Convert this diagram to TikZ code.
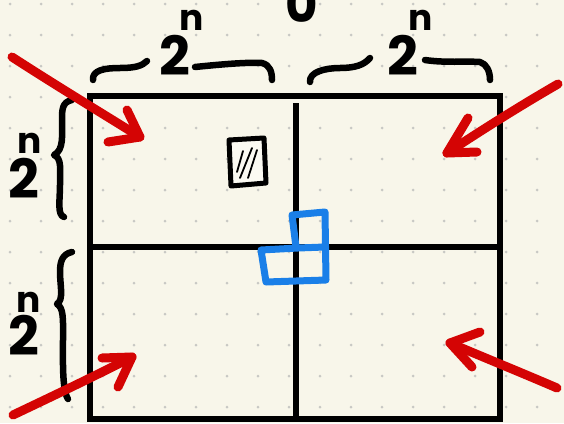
\documentclass[tikz,border=0pt]{standalone}
\usepackage{fontspec}
\setmainfont{Poppins}
\definecolor{bg}{HTML}{F8F6EA}
\definecolor{dotc}{HTML}{C8C8C4}
\definecolor{penred}{HTML}{D40404}
\definecolor{penblue}{HTML}{1A7FE8}
\newcommand\powlab[2]{\fontsize{54}{54}\selectfont 2\kern#1\raisebox{#2}{\fontsize{36}{36}\selectfont n}}
\tikzset{
  frameline/.style={line width=6pt, black, line join=miter},
  braceline/.style={line width=6.5pt, black, line cap=round, line join=round},
  redarrow/.style={line width=9pt, penred, line cap=round, line join=round},
  blueshape/.style={line width=7pt, penblue, line cap=round, line join=round},
  hatchbox/.style={line width=5pt, black, line join=round},
  hatchline/.style={line width=1.8pt, black, line cap=round},
  lab/.style={inner sep=0pt, anchor=base west, font=\bfseries},
}
\begin{document}
\begin{tikzpicture}[x=1pt,y=-1pt]
\useasboundingbox (0,0) rectangle (564,423);
\clip (0,0) rectangle (564,423);
\fill[bg] (0,0) rectangle (564,423);
% dot grid
\foreach \i in {0,...,17}{
  \foreach \j in {0,...,13}{
    \fill[dotc] ({10+31*\i},{4+31*\j}) circle (1.5pt);
  }
}
% top partial zero
\node[lab, anchor=base] (zero) at (302,22) {\fontsize{50}{50}\selectfont 0};
% frame
\draw[frameline] (90,96) rectangle (500,419);
\draw[frameline] (296,103) -- (296,419);
\draw[frameline] (90,247) -- (500,247);
% hatched small square
\draw[hatchbox, fill=bg!60!white] (229,140) -- (264,138) -- (266,183) -- (231,186) -- cycle;
\draw[hatchline] (237,172) -- (243,151);
\draw[hatchline] (240,178) -- (252,148);
\draw[hatchline] (248,178) -- (257,150);
% blue tromino
\draw[blueshape] (296,247) -- (292,215) -- (325,212) -- (326,280) -- (266,282) -- (261,250) -- (298,248) -- (325,247);
% braces top
\draw[braceline] (93,80) .. controls (92,70) and (105,68) .. (120,68) .. controls (135,68) and (142,66) .. (147,61);
\draw[braceline] (195,67) .. controls (215,65) and (245,62) .. (262,63) .. controls (270,65) and (272,72) .. (272,80);
\draw[braceline] (310,82) .. controls (309,72) and (325,68) .. (340,68) .. controls (355,68) and (364,65) .. (370,58);
\draw[braceline] (425,60) .. controls (445,63) and (465,61) .. (480,62) .. controls (487,64) and (490,72) .. (490,80);
% braces left
\draw[braceline] (72,100) .. controls (62,102) and (62,110) .. (62,120) .. controls (62,135) and (64,150) .. (54,155) .. controls (62,158) and (60,170) .. (60,185) .. controls (60,200) and (57,215) .. (64,217);
\draw[braceline] (72,252) .. controls (62,254) and (60,262) .. (60,272) .. controls (60,285) and (64,300) .. (57,304) .. controls (64,308) and (63,320) .. (63,340) .. controls (63,360) and (62,390) .. (68,399);
% labels
\node[lab] (labA) at (159,75) {\powlab{-11pt}{45pt}};
\node[lab] (labB) at (387,75) {\powlab{-10pt}{45pt}};
\node[lab] (labC) at (8,198) {\powlab{-22pt}{45pt}};
\node[lab] (labD) at (8,355) {\powlab{-23pt}{43pt}};
% red arrows
\draw[redarrow] (12,57) .. controls (60,88) and (100,112) .. (140,137);
\draw[redarrow] (127,110) -- (140,137) -- (108,142);
\draw[redarrow] (558,84) .. controls (520,106) and (485,128) .. (447,153);
\draw[redarrow] (468,118) -- (447,153) -- (477,152);
\draw[redarrow] (557,388) .. controls (520,372) and (485,358) .. (450,343);
\draw[redarrow] (480,332) -- (450,343) -- (472,367);
\draw[redarrow] (13,415) .. controls (55,395) and (95,376) .. (132,357);
\draw[redarrow] (102,358) -- (132,357) -- (118,387);
\end{tikzpicture}
\end{document}
